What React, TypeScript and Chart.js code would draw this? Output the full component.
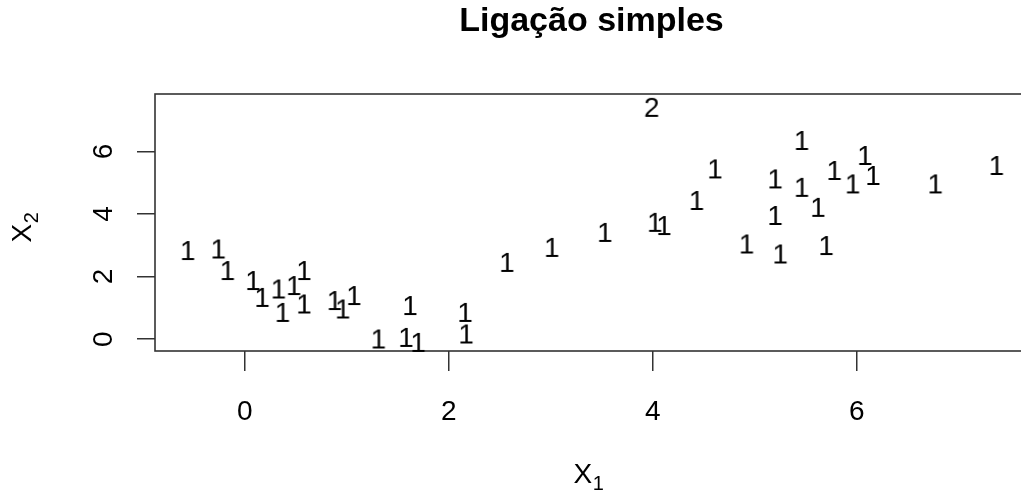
import { useEffect, useRef } from "react";
import { Chart, registerables } from "chart.js";

Chart.register(...registerables);

// ---- data ----
const cluster1X = [
  -0.56, -0.26, -0.17, 0.08, 0.17, 0.33, 0.37, 0.48, 0.58, 0.58,
  0.88, 0.96, 1.07, 1.31, 1.58, 1.70, 1.62, 2.16, 2.17, 2.57,
  3.01, 3.53, 4.02, 4.11, 4.43, 4.61, 5.46, 5.20, 5.46, 5.78,
  5.96, 6.08, 6.16, 6.77, 7.37, 5.20, 5.62, 4.92, 5.25, 5.70,
];
const cluster1Y = [
  2.85, 2.90, 2.21, 1.89, 1.35, 1.62, 0.87, 1.73, 2.21, 1.14,
  1.25, 0.98, 1.41, 0.02, 0.07, -0.09, 1.09, 0.87, 0.18, 2.47,
  2.95, 3.43, 3.75, 3.65, 4.45, 5.46, 6.37, 5.14, 4.87, 5.41,
  4.98, 5.89, 5.25, 4.98, 5.57, 3.97, 4.23, 3.06, 2.74, 3.01,
];
const cluster2X = [3.99];
const cluster2Y = [7.43];
const cluster1Label = "1";
const cluster2Label = "2";

const xTicks = [0, 2, 4, 6];
const yTicks = [0, 2, 4, 6];
const xRange = [-0.88, 7.68];
const yRange = [-0.38, 7.84];

const titleText = "Ligação simples";
const xAxisLabel = ["X", "1"]; // X with subscript 1
const yAxisLabel = ["X", "2"]; // X with subscript 2

const FONT = '"Liberation Sans", Arial, Helvetica, sans-serif';

function makeGlyph(text: string): HTMLCanvasElement {
  const c = document.createElement("canvas");
  c.width = 30;
  c.height = 36;
  const ctx = c.getContext("2d")!;
  ctx.font = `28px ${FONT}`;
  ctx.fillStyle = "#000";
  ctx.textAlign = "center";
  ctx.textBaseline = "alphabetic";
  ctx.fillText(text, 15, 18 + 10);
  return c;
}

function drawSubLabel(ctx: CanvasRenderingContext2D, parts: string[]) {
  const mainFont = `28px ${FONT}`;
  const subFont = `20px ${FONT}`;
  ctx.font = mainFont;
  const wMain = ctx.measureText(parts[0]).width;
  ctx.font = subFont;
  const wSub = ctx.measureText(parts[1]).width;
  const start = -(wMain + wSub) / 2;
  ctx.textAlign = "left";
  ctx.textBaseline = "alphabetic";
  ctx.font = mainFont;
  ctx.fillText(parts[0], start, 10);
  ctx.font = subFont;
  ctx.fillText(parts[1], start + wMain + 0.5, 17);
}

const boxPlugin = {
  id: "rbox",
  beforeDatasetsDraw(chart: any) {
    const { ctx, chartArea } = chart;
    ctx.save();
    ctx.strokeStyle = "#333";
    ctx.lineWidth = 1.6;
    ctx.strokeRect(
      chartArea.left,
      chartArea.top,
      chartArea.right - chartArea.left,
      chartArea.bottom - chartArea.top
    );
    ctx.restore();
  },
  afterDraw(chart: any) {
    const { ctx, chartArea } = chart;
    ctx.save();
    ctx.fillStyle = "#000";
    // x axis title
    ctx.save();
    ctx.translate((chartArea.left + chartArea.right) / 2 - 3, chart.height - 23);
    drawSubLabel(ctx, xAxisLabel);
    ctx.restore();
    // y axis title
    ctx.save();
    ctx.translate(21, (chartArea.top + chartArea.bottom) / 2 + 5);
    ctx.rotate(-Math.PI / 2);
    drawSubLabel(ctx, yAxisLabel);
    ctx.restore();
    ctx.restore();
  },
};

export default function App() {
  const ref = useRef<HTMLCanvasElement>(null);

  useEffect(() => {
    if (!ref.current) return;
    const g1 = makeGlyph(cluster1Label);
    const g2 = makeGlyph(cluster2Label);
    const tickFont = { family: FONT, size: 28 };
    const chart = new Chart(ref.current, {
      type: "scatter",
      data: {
        datasets: [
          {
            label: cluster1Label,
            data: cluster1X.map((x, i) => ({ x, y: cluster1Y[i] })),
            pointStyle: g1 as any,
            pointRadius: 10,
            clip: false as any,
          },
          {
            label: cluster2Label,
            data: cluster2X.map((x, i) => ({ x, y: cluster2Y[i] })),
            pointStyle: g2 as any,
            pointRadius: 10,
            clip: false as any,
          },
        ],
      },
      options: {
        animation: false,
        responsive: false,
        events: [],
        layout: { padding: { left: 0, right: 12, top: 0, bottom: 0 } },
        plugins: {
          legend: { display: false },
          tooltip: { enabled: false },
          title: {
            display: true,
            text: titleText,
            fullSize: false,
            color: "#000",
            font: { family: FONT, size: 34, weight: "bold" },
            padding: { top: 1, bottom: 52.2 },
          },
        },
        scales: {
          x: {
            type: "linear",
            min: xRange[0],
            max: xRange[1],
            afterBuildTicks: (s: any) => {
              s.ticks = xTicks.map((v) => ({ value: v }));
            },
            afterFit: (s: any) => {
              s.height = 145;
            },
            border: { display: false },
            grid: {
              drawOnChartArea: false,
              drawTicks: true,
              tickLength: 20,
              color: "#333",
              lineWidth: 1.5,
            },
            ticks: { font: tickFont, color: "#000", padding: 24 },
          },
          y: {
            type: "linear",
            min: yRange[0],
            max: yRange[1],
            afterBuildTicks: (s: any) => {
              s.ticks = yTicks.map((v) => ({ value: v }));
            },
            afterFit: (s: any) => {
              s.width = 155;
            },
            border: { display: false },
            grid: {
              drawOnChartArea: false,
              drawTicks: true,
              tickLength: 18,
              color: "#333",
              lineWidth: 1.5,
            },
            ticks: {
              font: tickFont,
              color: "#000",
              minRotation: 90,
              maxRotation: 90,
              crossAlign: "center",
              padding: 25,
            },
          },
        },
      },
      plugins: [boxPlugin],
    } as any);
    return () => chart.destroy();
  }, []);

  return (
    <div
      style={{
        position: "fixed",
        left: 0,
        top: 0,
        width: 1021,
        height: 496,
        overflow: "hidden",
        background: "#fff",
      }}
    >
      <canvas ref={ref} width={1040} height={496} style={{ display: "block" }} />
    </div>
  );
}
